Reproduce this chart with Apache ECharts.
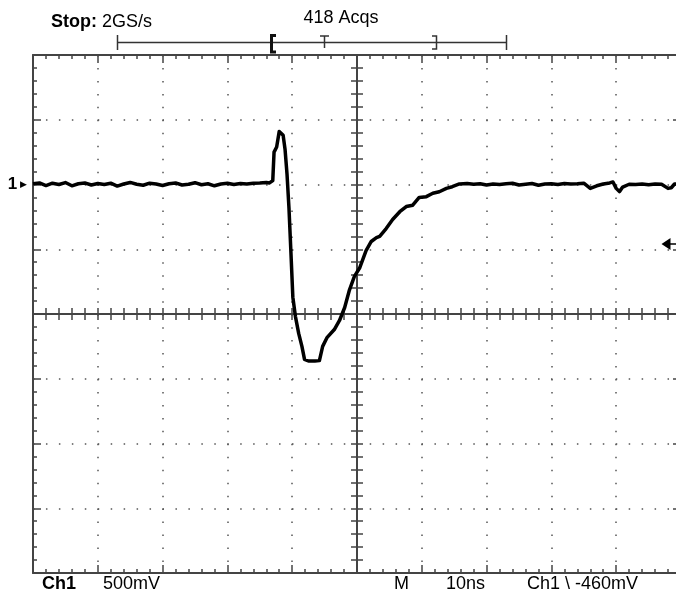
<!DOCTYPE html>
<html><head><meta charset="utf-8">
<script src="https://cdn.jsdelivr.net/npm/echarts@6/dist/echarts.min.js"></script>
<style>html,body{margin:0;padding:0;background:#fff}#c{width:676px;height:598px}</style>
</head><body><div id="c"></div>
<script>
// ---- data (time in ns, voltage in V) ----
const sampleRateText = '2GS/s';
const acqText = '418 Acqs';
const voltsPerDivText = '500mV';
const timePerDivText = '10ns';
const triggerText = 'Ch1 \\ -460mV';
const triggerLevelV = -0.46;
const groundMarkerV = 0;
const timeRangeNs = [0, 100];
const voltRangeV = [-3, 1];

const timeNs = [
  0,1,2,3,4,5,6,7,8,9,10,11,12,13,14,15,16,17,18,19,20,21,22,23,24,25,26,27,28,29,30,31,32,33,34,35,36,
  36.5,37.0,37.2,37.6,38.0,38.3,38.6,38.9,39.2,39.5,39.8,40.1,40.5,41.0,41.5,41.9,42.5,43.5,44.2,44.7,45.4,46.5,47.3,48.1,48.8,49.6,50.4,51.4,52.2,53.0,53.5,54.5,55.5,56.6,57.6,58.6,59.6,60.7,61.7,62.7,63.8,64.7,65.8,
  67,68,69,70,71,72,73,74,75,76,77,78,79,80,81,82,83,84,85,86,87,88,89,89.5,90,90.5,91,92,93,94,95,96,97,98,98.5,99,100
];
const voltV = [
  0.005,0.012,-0.008,0.010,0.000,0.015,-0.010,0.006,0.012,-0.004,0.008,0.000,0.010,-0.012,0.004,0.016,0.002,-0.006,0.010,0.004,-0.008,0.006,0.012,-0.004,0.002,0.014,-0.002,0.006,-0.010,0.004,0.010,0.000,0.008,0.004,0.010,0.012,0.016,
  0.012,0.030,0.250,0.290,0.410,0.420,0.380,0.270,0.080,-0.180,-0.520,-0.870,-1.020,-1.150,-1.250,-1.350,-1.363,-1.363,-1.360,-1.250,-1.180,-1.120,-1.050,-0.950,-0.820,-0.710,-0.645,-0.510,-0.440,-0.410,-0.400,-0.340,-0.270,-0.210,-0.170,-0.160,-0.100,-0.094,-0.068,-0.056,-0.030,-0.017,0.004,
  0.008,0.002,0.006,-0.004,0.004,0.000,0.006,0.010,-0.004,0.002,0.008,-0.006,0.004,0.006,0.000,0.008,0.004,0.006,0.010,-0.030,-0.010,0.004,0.012,0.020,-0.030,-0.055,-0.020,0.002,0.000,0.004,-0.002,0.004,0.002,-0.030,-0.025,0.004,0.006
];

const G = '#444';
const FONT = "'Liberation Sans', Arial, Helvetica, sans-serif";
const chart = echarts.init(document.getElementById('c'), null, {renderer: 'canvas'});

function xAxisCfg(pos, offset, inside, major, minor, split) {
  return {
    type: 'value', min: timeRangeNs[0], max: timeRangeNs[1], interval: 10,
    position: pos, offset: offset,
    axisLine: {show: true, onZero: false, lineStyle: {color: G, width: 2}},
    axisTick: {show: true, inside: inside, length: major, lineStyle: {color: G, width: 1.5}},
    minorTick: {show: true, splitNumber: 5, length: minor, lineStyle: {color: G, width: 1.5}},
    axisLabel: {show: false},
    splitLine: split ? {show: true, lineStyle: {color: '#555', width: 1.5, type: [1.5, 11.46]}} : {show: false},
    minorSplitLine: {show: false}
  };
}
function yAxisCfg(pos, offset, inside, major, minor, split, label) {
  return {
    type: 'value', min: voltRangeV[0], max: voltRangeV[1], interval: 0.5,
    position: pos, offset: offset,
    axisLine: {show: true, onZero: false, lineStyle: {color: G, width: 2}},
    axisTick: {show: true, inside: inside, length: major, lineStyle: {color: G, width: 1.5}},
    minorTick: {show: true, splitNumber: 5, length: minor, lineStyle: {color: G, width: 1.5}},
    axisLabel: label || {show: false},
    splitLine: split ? {show: true, lineStyle: {color: '#555', width: 1.5, type: [1.5, 11.45]}} : {show: false},
    minorSplitLine: {show: false}
  };
}

const gridRect = {left: 33, top: 55, width: 648, height: 518};
const halfW = gridRect.width / 2, halfH = gridRect.height / 2;

const option = {
  animation: false,
  backgroundColor: '#fff',
  grid: {left: gridRect.left, top: gridRect.top, width: gridRect.width, height: gridRect.height, containLabel: false, outerBoundsMode: 'none'},
  xAxis: [
    xAxisCfg('bottom', 0, true, 8, 4, true),
    xAxisCfg('top', 0, true, 8, 4, false),
    xAxisCfg('bottom', -halfH, false, 6, 6, false),
    xAxisCfg('top', -halfH, false, 6, 6, false)
  ],
  yAxis: [
    yAxisCfg('left', 0, true, 8, 4, true, {
      show: true, margin: 6, interval: 0,
      formatter: function (v) { return Math.abs(v - groundMarkerV) < 1e-9 ? '{n|1}{a| ▶}' : ''; },
      rich: {n: {fontFamily: FONT, fontWeight: 'bold', fontSize: 17, color: '#000'}, a: {fontSize: 9, color: '#000', fontFamily: 'DejaVu Sans'}}
    }),
    yAxisCfg('right', 0, true, 8, 4, false),
    yAxisCfg('left', -halfW, false, 6, 6, false),
    yAxisCfg('right', -halfW, false, 6, 6, false)
  ],
  series: [{
    type: 'line', xAxisIndex: 0, yAxisIndex: 0,
    data: timeNs.map((t, i) => [t, voltV[i]]),
    showSymbol: false, symbol: 'none',
    lineStyle: {color: '#000', width: 3.5, join: 'round'},
    z: 5, clip: true,
    markPoint: {
      silent: true,
      symbol: 'path://M0,6 L9,0 L9,12 Z M9,5.2 L20,5.2 L20,6.8 L9,6.8 Z',
      symbolSize: [20, 12], symbolKeepAspect: false,
      symbolOffset: [-9.5, 0],
      itemStyle: {color: '#000'},
      label: {show: false},
      data: [{coord: [timeRangeNs[1], triggerLevelV]}]
    }
  }],
  graphic: [
    {type: 'text', x: 51, y: 22, style: {text: '{b|Stop:} ' + sampleRateText, fontFamily: FONT, fontSize: 18, fill: '#000', verticalAlign: 'middle',
      rich: {b: {fontFamily: FONT, fontSize: 18, fontWeight: 'bold', fill: '#000'}}}},
    {type: 'text', x: 341, y: 18, style: {text: acqText, fontFamily: FONT, fontSize: 18, fill: '#000', align: 'center', verticalAlign: 'middle'}},
    // record-length bar
    {type: 'line', shape: {x1: 117.5, y1: 42.5, x2: 506.5, y2: 42.5}, style: {stroke: '#333', lineWidth: 1.5}},
    {type: 'line', shape: {x1: 117.5, y1: 35, x2: 117.5, y2: 50}, style: {stroke: '#333', lineWidth: 1.5}},
    {type: 'line', shape: {x1: 506.5, y1: 35, x2: 506.5, y2: 50}, style: {stroke: '#333', lineWidth: 1.5}},
    {type: 'polyline', shape: {points: [[276, 35.5], [271.5, 35.5], [271.5, 52], [276, 52]]}, style: {stroke: '#111', lineWidth: 3, fill: null}},
    {type: 'polyline', shape: {points: [[320, 36], [329, 36]]}, style: {stroke: '#333', lineWidth: 1.5, fill: null}},
    {type: 'line', shape: {x1: 324.5, y1: 36, x2: 324.5, y2: 48}, style: {stroke: '#333', lineWidth: 1.5}},
    {type: 'polyline', shape: {points: [[432, 36], [436.5, 36], [436.5, 49], [432, 49]]}, style: {stroke: '#333', lineWidth: 1.5, fill: null}},
    // bottom readouts
    {type: 'text', x: 42, y: 584, style: {text: 'Ch1', fontFamily: FONT, fontSize: 18, fontWeight: 'bold', fill: '#000', verticalAlign: 'middle'}},
    {type: 'text', x: 103, y: 584, style: {text: voltsPerDivText, fontFamily: FONT, fontSize: 18, fill: '#000', verticalAlign: 'middle'}},
    {type: 'text', x: 394, y: 584, style: {text: 'M', fontFamily: FONT, fontSize: 18, fill: '#000', verticalAlign: 'middle'}},
    {type: 'text', x: 446, y: 584, style: {text: timePerDivText, fontFamily: FONT, fontSize: 18, fill: '#000', verticalAlign: 'middle'}},
    {type: 'text', x: 527, y: 584, style: {text: triggerText, fontFamily: FONT, fontSize: 18, fill: '#000', verticalAlign: 'middle'}}
  ]
};
chart.setOption(option);
</script>
</body></html>
